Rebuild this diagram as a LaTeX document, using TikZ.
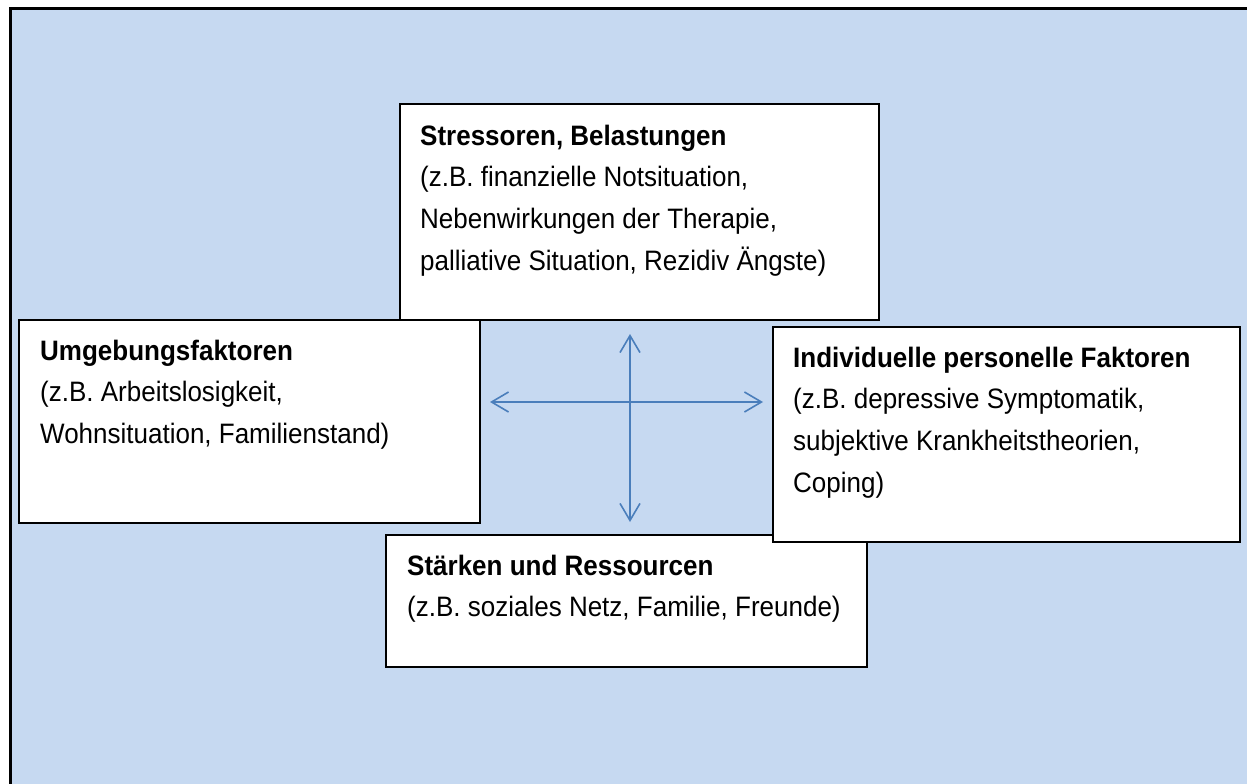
\documentclass[tikz,border=0pt]{standalone}
\usepackage{fontspec}
\setmainfont{Liberation Sans}
\usetikzlibrary{arrows.meta}
\definecolor{bgblue}{HTML}{C6D9F1}
\definecolor{arrblue}{HTML}{4A7EBB}
\newcommand{\tallbox}[2]{\scalebox{1}[1.08]{\parbox[t]{#1}{\raggedright #2}}}
\begin{document}
\begin{tikzpicture}[x=1pt,y=-1pt,
  panel/.style={draw=black, line width=2pt, fill=white, anchor=north west, inner sep=0pt, outer sep=0pt},
  boxtext/.style={anchor=base west, inner sep=0pt, font=\fontsize{26}{38.6}\selectfont},
  link/.style={draw=arrblue, line width=1.6pt, {Straight Barb[length=17pt,width=20pt]}-{Straight Barb[length=17pt,width=20pt]}}]
\useasboundingbox (0,0) rectangle (1247,784);
\draw[line width=3pt, fill=bgblue] (10,9) rectangle (1270,810);
% boxes
\node[panel, minimum width=479pt, minimum height=216pt] (stress) at (400,104) {};
\node[boxtext] (stresstxt) at (420,145) {\tallbox{450pt}{\textbf{Stressoren, Belastungen}\\(z.B. finanzielle Notsituation,\\Nebenwirkungen der Therapie,\\palliative Situation, Rezidiv Ängste)}};
\node[panel, minimum width=481pt, minimum height=132pt] (staerk) at (386,535) {};
\node[boxtext] (staerktxt) at (407,575) {\tallbox{450pt}{\textbf{Stärken und Ressourcen}\\(z.B. soziales Netz, Familie, Freunde)}};
\node[panel, minimum width=461pt, minimum height=203pt] (umgeb) at (19,320) {};
\node[boxtext] (umgebtxt) at (40,360) {\tallbox{430pt}{\textbf{Umgebungsfaktoren}\\(z.B. Arbeitslosigkeit,\\Wohnsituation, Familienstand)}};
\node[panel, minimum width=467pt, minimum height=215pt] (indiv) at (773,327) {};
\node[boxtext] (indivtxt) at (793,367) {\tallbox{440pt}{\textbf{Individuelle personelle Faktoren}\\(z.B. depressive Symptomatik,\\subjektive Krankheitstheorien,\\Coping)}};
% arrows
\coordinate (hl) at (490,402);
\coordinate (hr) at (763,402);
\coordinate (vt) at (630,334);
\coordinate (vb) at (630,522);
\draw[link] (hl) -- (hr);
\draw[link] (vt) -- (vb);
\end{tikzpicture}
\end{document}
